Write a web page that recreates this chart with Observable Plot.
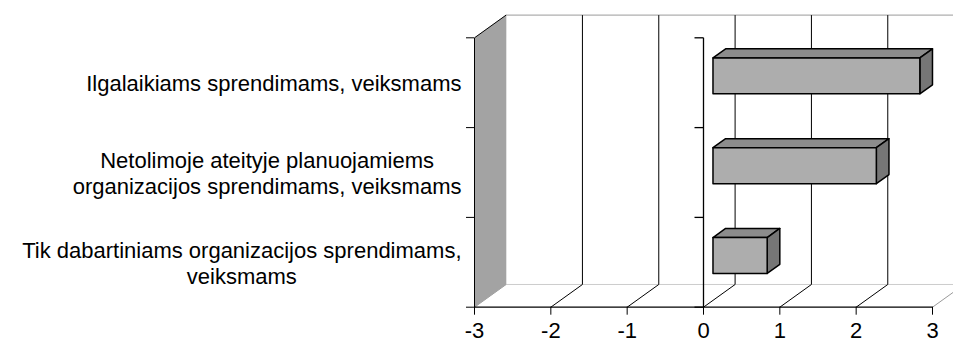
<!DOCTYPE html>
<html>
<head>
<meta charset="utf-8">
<script src="https://cdn.jsdelivr.net/npm/d3@7"></script>
<script src="https://cdn.jsdelivr.net/npm/@observablehq/plot@0.6"></script>
<style>
  html, body { margin: 0; padding: 0; background: white; }
  svg { display: block; }
</style>
</head>
<body>
<div id="chart"></div>
<script>
// ---- data ----
const categories = [
  "Ilgalaikiams sprendimams, veiksmams",
  "Netolimoje ateityje planuojamiems\norganizacijos sprendimams, veiksmams",
  "Tik dabartiniams organizacijos sprendimams,\nveiksmams"
];
const values = [2.71, 2.14, 0.71];
const xTicks = [-3, -2, -1, 0, 1, 2, 3];
const xDomain = [-3, 3];

// ---- 3D projection (oblique) ----
const DX = 0.414;    // value units per full depth
const DY = -0.2528;  // category units per full depth
const BAR_D0 = 0.3, BAR_D1 = 0.7;   // bar depth span
const BAR_C0 = 0.3, BAR_C1 = 0.7;   // bar span within band
const P = (v, c, d) => ({x: v + DX * d, y: c + DY * d});
const nCat = categories.length;
const [vMin, vMax] = xDomain;

function polys(list) {
  const out = [];
  list.forEach((pts, id) => pts.forEach(p => out.push({id, ...P(...p)})));
  return out;
}
function seg(a, b) { const p = P(...a), q = P(...b); return {x1: p.x, y1: p.y, x2: q.x, y2: q.y}; }

const backWall = polys([[[vMin,0,1],[vMax,0,1],[vMax,nCat,1],[vMin,nCat,1]]]);
const floorPoly = polys([[[vMin,nCat,0],[vMax,nCat,0],[vMax,nCat,1],[vMin,nCat,1]]]);
const sideWall = polys([[[vMin,0,0],[vMin,0,1],[vMin,nCat,1],[vMin,nCat,0]]]);

const backGrid = xTicks.filter(v => v > vMin).map(v => seg([v,0,1],[v,nCat,1]));
const floorDiag = xTicks.filter(v => v > vMin && v < vMax).map(v => seg([v,nCat,0],[v,nCat,1]));
const floorDiagGray = [seg([vMax,nCat,0],[vMax,nCat,1]), seg([vMin,nCat,0],[vMin,nCat,1])];
const wallBlack = [seg([vMin,0,0],[vMin,nCat,0]), seg([vMin,0,0],[vMin,0,1])];
const frontAxis = [seg([vMin,nCat,0],[vMax,nCat,0])];
const catIdx = d3.range(nCat + 1);
const zeroAxis = [seg([0,0,0],[0,nCat,0])];
const pxPerUnit = (932 - 474) / (vMax - vMin);
const zeroTicks = catIdx.map(c => seg([-9 / pxPerUnit, c, 0], [0, c, 0]));

const barTop = polys(values.map((v, i) => [[0,i+BAR_C0,BAR_D0],[v,i+BAR_C0,BAR_D0],[v,i+BAR_C0,BAR_D1],[0,i+BAR_C0,BAR_D1]]));
const barSide = polys(values.map((v, i) => [[v,i+BAR_C0,BAR_D0],[v,i+BAR_C1,BAR_D0],[v,i+BAR_C1,BAR_D1],[v,i+BAR_C0,BAR_D1]]));
const barFront = polys(values.map((v, i) => [[0,i+BAR_C0,BAR_D0],[v,i+BAR_C0,BAR_D0],[v,i+BAR_C1,BAR_D0],[0,i+BAR_C1,BAR_D0]]));

// ---- label measurement ----
const FONT = "'Liberation Sans', Arial, sans-serif";
const FS = 22;
const ctx = document.createElement("canvas").getContext("2d");
ctx.font = `${FS}px ${FONT}`;
const labelWidth = s => Math.max(...s.split("\n").map(l => ctx.measureText(l).width));

const L = {x: "x", y: "y", z: "id", curve: "linear-closed"};
const K = {x1: "x1", y1: "y1", x2: "x2", y2: "y2"};

const chart = Plot.plot({
  width: 953,
  height: 343,
  marginLeft: 474,
  marginRight: 21,
  marginTop: 37.3,
  marginBottom: 36.3,
  x: {domain: xDomain},
  y: {domain: [0, nCat], reverse: true},
  style: {fontFamily: FONT, fontSize: FS + "px", color: "black", background: "white", overflow: "visible"},
  marks: [
    Plot.line(backWall, {...L, fill: "white", stroke: "#9a9a9a", strokeWidth: 1}),
    Plot.line(floorPoly, {...L, fill: "white", stroke: "none"}),
    Plot.link(backGrid, {...K, stroke: "black", strokeWidth: 1}),
    Plot.link(floorDiagGray, {...K, stroke: "#9a9a9a", strokeWidth: 1}),
    Plot.link(floorDiag, {...K, stroke: "black", strokeWidth: 1}),
    Plot.line(sideWall, {...L, fill: "#a3a3a3", stroke: "none"}),
    Plot.link(wallBlack, {...K, stroke: "black", strokeWidth: 1}),
    Plot.link(frontAxis, {...K, stroke: "black", strokeWidth: 1.3}),
    Plot.link(zeroAxis, {...K, stroke: "black", strokeWidth: 1.3}),
    Plot.link(zeroTicks, {...K, stroke: "black", strokeWidth: 1.3}),
    Plot.line(barTop, {...L, fill: "#8c8c8c", stroke: "black", strokeWidth: 1.5, strokeLinejoin: "round"}),
    Plot.line(barSide, {...L, fill: "#767676", stroke: "black", strokeWidth: 1.5, strokeLinejoin: "round"}),
    Plot.line(barFront, {...L, fill: "#adadad", stroke: "black", strokeWidth: 1.5, strokeLinejoin: "round"}),
    Plot.axisX({ticks: xTicks, tickSize: 8, tickPadding: 7, fontSize: FS, stroke: "black",
      tickFormat: d => (d < 0 ? "-" + Math.abs(d) : String(d))}),
    Plot.axisY({ticks: catIdx, tickSize: 8, tickFormat: () => "", stroke: "black"}),
    ...categories.map((c, i) => Plot.text([c], {
      x: vMin, y: i + 0.5, text: d => d, textAnchor: "middle", lineHeight: 1.21,
      fontSize: FS, fill: "black", dx: -(13 + labelWidth(c) / 2)
    }))
  ]
});
document.getElementById("chart").append(chart);
</script>
</body>
</html>
